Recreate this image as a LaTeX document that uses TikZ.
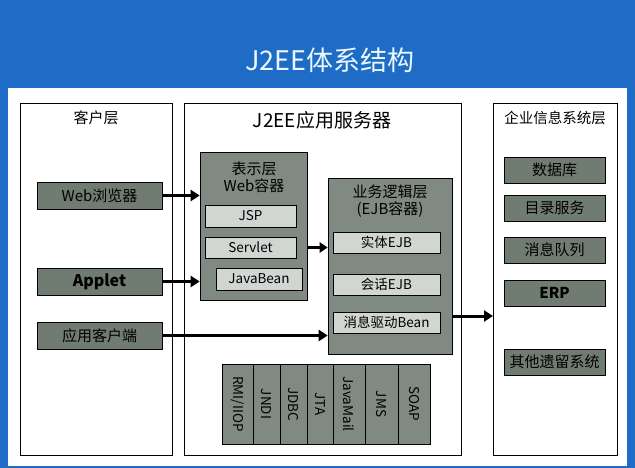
\documentclass[tikz,border=0pt]{standalone}
\usepackage{fontspec}
\setmainfont{Noto Sans CJK SC}
\usetikzlibrary{arrows.meta}
\definecolor{bg}{HTML}{1E6CC6}
\definecolor{cont}{HTML}{808A82}
\definecolor{inner}{HTML}{D2D6D2}
\definecolor{cli}{HTML}{707B72}
\tikzset{
 lay/.style={draw=black,line width=0.8pt,fill=white},
 contbox/.style={draw=black,line width=0.6pt,fill=cont},
 inbox/.style={draw=black,line width=0.6pt,fill=inner,font=\fontsize{13.5}{14}\selectfont,inner sep=0pt},
 clibox/.style={draw=black,line width=0.6pt,fill=cli,font=\fontsize{15}{16}\selectfont,inner sep=0pt},
 svc/.style={draw=black,line width=0.6pt,fill=cont},
 big/.style={-{Triangle[length=9pt,width=11pt]},line width=3pt},
}
\begin{document}
\begin{tikzpicture}[x=1pt,y=-1pt]
\useasboundingbox (0,0) rectangle (635,468);
\fill[bg] (0,0) rectangle (635,468);
\fill[white] (8,88) rectangle (627,466);
\node[text=white!92!cyan,font=\fontsize{27}{28}\selectfont] (title) at (330,60) {J2EE体系结构};
% layers
\draw[lay] (20,103) rectangle (172,455);
\draw[lay] (184,103) rectangle (461,455);
\draw[lay] (493,103) rectangle (617,455);
\node[font=\fontsize{15}{16}\selectfont] (l1) at (96,118) {客户层};
\node[font=\fontsize{19}{20}\selectfont] (l2) at (322,120) {J2EE应用服务器};
\node[font=\fontsize{14.5}{15}\selectfont,inner sep=0pt] (l3) at (555,118) {企业信息系统层};
% client
\node[clibox,minimum width=125pt,minimum height=27pt] (web) at (99.5,195.5) {Web浏览器};
\node[clibox,minimum width=125pt,minimum height=27pt,font=\fontsize{16}{17}\selectfont\bfseries] (applet) at (99.5,281.5) {Applet};
\node[clibox,minimum width=125pt,minimum height=27pt] (app) at (99.5,335.5) {应用客户端};
% web container
\node[contbox,minimum width=107pt,minimum height=148pt] (wc) at (253.5,226) {};
\node[font=\fontsize{15}{17}\selectfont,align=center] (wct) at (254,177) {表示层\\Web容器};
\node[inbox,minimum width=91pt,minimum height=22pt] (jsp) at (250.5,216) {JSP};
\node[inbox,minimum width=91pt,minimum height=21pt] (servlet) at (250.5,247.5) {Servlet};
\node[inbox,minimum width=86pt,minimum height=22pt] (jb) at (259,279) {JavaBean};
% ejb container
\node[contbox,minimum width=124pt,minimum height=176pt] (ec) at (390,266) {};
\node[font=\fontsize{15}{17}\selectfont,align=center] (ect) at (390,201) {业务逻辑层\\(EJB容器)};
\node[inbox,minimum width=107pt,minimum height=21pt] (ent) at (386.5,242.5) {实体EJB};
\node[inbox,minimum width=107pt,minimum height=21pt] (ses) at (386.5,284.5) {会话EJB};
\node[inbox,minimum width=107pt,minimum height=21pt] (mdb) at (386.5,322.5) {消息驱动Bean};
% services
\foreach \a/\b/\t [count=\i] in {222/253/RMI\slash IIOP,253/280/JNDI,280/307/JDBC,307/333/JTA,333/365/JavaMail,365/398/JMS,398/430/SOAP}{
  \node[svc,minimum width={(\b-\a)*1pt},minimum height=80pt,inner sep=0pt] (s\i) at ({(\a+\b)/2},404) {};
  \node[rotate=-90,font=\fontsize{13.5}{14}\selectfont,inner sep=0pt] (st\i) at ({(\a+\b)/2},404) {\t};
}
% EIS
\node[clibox,minimum width=101pt,minimum height=26pt] (db) at (554.5,170) {数据库};
\node[clibox,minimum width=101pt,minimum height=26pt] (dir) at (554.5,208) {目录服务};
\node[clibox,minimum width=101pt,minimum height=26pt] (mq) at (554.5,250) {消息队列};
\node[clibox,minimum width=101pt,minimum height=26pt,font=\fontsize{15}{16}\selectfont\bfseries] (erp) at (554.5,293) {ERP};
\node[clibox,minimum width=101pt,minimum height=26pt] (legacy) at (554.5,362) {其他遗留系统};
% arrows
\draw[big] (web.east) -- (web.east -| wc.west);
\draw[big] (applet.east) -- (applet.east -| wc.west);
\draw[big] (app.east) -- (app.east -| ec.west);
\draw[-{Triangle[length=8pt,width=10pt]},line width=2.5pt] (servlet.east -| wc.east) -- (servlet.east -| ec.west);
\coordinate (eis) at (493,316);
\draw[big] (ec.east |- eis) -- (eis);
\end{tikzpicture}
\end{document}
